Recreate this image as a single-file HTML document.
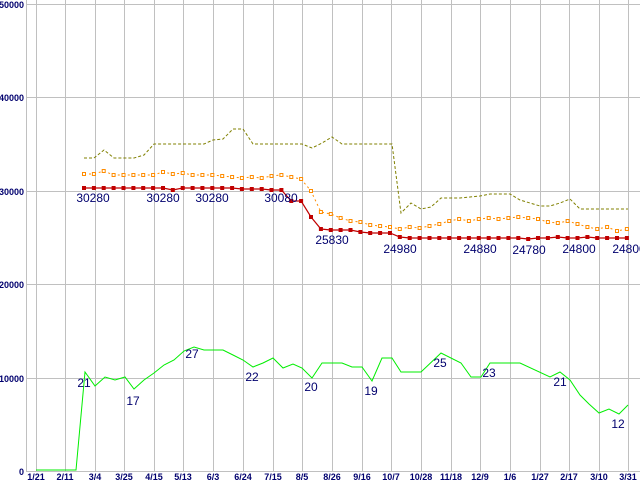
<!DOCTYPE html>
<html><head><meta charset="utf-8"><style>
html,body{margin:0;padding:0;background:#fff;}
svg{display:block;}
.t{font-family:"Liberation Sans",sans-serif;fill:#00006e;}
</style></head><body>
<svg width="640" height="480" xmlns="http://www.w3.org/2000/svg">
<defs>
<marker id="rs" markerUnits="userSpaceOnUse" markerWidth="6" markerHeight="6" refX="3" refY="3"><rect x="1" y="1" width="4" height="4" fill="#c00000"/></marker>
<marker id="os" markerUnits="userSpaceOnUse" markerWidth="6" markerHeight="6" refX="3" refY="3"><rect x="1.5" y="1.5" width="3" height="3" fill="#fff" stroke="#ff8c00" stroke-width="1"/></marker>
</defs>
<rect width="640" height="480" fill="#fff"/>
<g stroke="#c0c0c0" stroke-width="1">
<line x1="26" y1="4.5" x2="640" y2="4.5"/><line x1="26" y1="97.5" x2="640" y2="97.5"/>
<line x1="26" y1="191.5" x2="640" y2="191.5"/><line x1="26" y1="284.5" x2="640" y2="284.5"/>
<line x1="26" y1="378.5" x2="640" y2="378.5"/><line x1="26" y1="471.5" x2="640" y2="471.5"/>
<line x1="26.5" y1="0" x2="26.5" y2="472"/>
<line x1="36.5" y1="0" x2="36.5" y2="472"/><line x1="65.5" y1="0" x2="65.5" y2="472"/>
<line x1="95.5" y1="0" x2="95.5" y2="472"/><line x1="124.5" y1="0" x2="124.5" y2="472"/>
<line x1="154.5" y1="0" x2="154.5" y2="472"/><line x1="183.5" y1="0" x2="183.5" y2="472"/>
<line x1="213.5" y1="0" x2="213.5" y2="472"/><line x1="243.5" y1="0" x2="243.5" y2="472"/>
<line x1="273.5" y1="0" x2="273.5" y2="472"/><line x1="302.5" y1="0" x2="302.5" y2="472"/>
<line x1="332.5" y1="0" x2="332.5" y2="472"/><line x1="362.5" y1="0" x2="362.5" y2="472"/>
<line x1="391.5" y1="0" x2="391.5" y2="472"/><line x1="421.5" y1="0" x2="421.5" y2="472"/>
<line x1="451.5" y1="0" x2="451.5" y2="472"/><line x1="480.5" y1="0" x2="480.5" y2="472"/>
<line x1="510.5" y1="0" x2="510.5" y2="472"/><line x1="540.5" y1="0" x2="540.5" y2="472"/>
<line x1="569.5" y1="0" x2="569.5" y2="472"/><line x1="599.5" y1="0" x2="599.5" y2="472"/>
<line x1="628.5" y1="0" x2="628.5" y2="472"/>
</g>
<g class="t" font-size="9" font-weight="bold" text-anchor="end">
<text x="24" y="8">50000</text><text x="24" y="101">40000</text><text x="24" y="195">30000</text>
<text x="24" y="288">20000</text><text x="24" y="382">10000</text><text x="24" y="475">0</text>
</g>
<g class="t" font-size="9" font-weight="bold" text-anchor="middle">
<text x="36" y="480">1/21</text><text x="65" y="480">2/11</text><text x="95" y="480">3/4</text>
<text x="124" y="480">3/25</text><text x="154" y="480">4/15</text><text x="183" y="480">5/13</text>
<text x="213" y="480">6/3</text><text x="243" y="480">6/24</text><text x="273" y="480">7/15</text>
<text x="302" y="480">8/5</text><text x="332" y="480">8/26</text><text x="362" y="480">9/16</text>
<text x="391" y="480">10/7</text><text x="421" y="480">10/28</text><text x="451" y="480">11/18</text>
<text x="480" y="480">12/9</text><text x="510" y="480">1/6</text><text x="540" y="480">1/27</text>
<text x="569" y="480">2/17</text><text x="599" y="480">3/10</text><text x="628" y="480">3/31</text>
</g>
<polyline fill="none" stroke="#808000" stroke-width="1" stroke-dasharray="3,2" points="84,158 94,158 104,150 114,158 134,158 144,155 154,144 204,144 213,140 223,139 233,129 243,129 253,144 302,144 312,148 322,143 332,137 342,144 392,144 401,213 411,203 421,209 431,207 441,198 460,198 480,196 490,194 510,194 520,200 540,206 550,206 560,203 570,199 580,209 628,209"/>
<polyline fill="none" stroke="#ff8c00" stroke-width="1" stroke-dasharray="2,3" marker-start="url(#os)" marker-mid="url(#os)" marker-end="url(#os)" points="84,174 93.9,174 103.7,171 113.6,175 123.5,175 133.4,175 143.2,175 153.1,175 163,172 172.8,174 182.7,173 192.6,175 202.4,175 212.3,175 222.2,176 232.1,177 241.9,178 251.8,177 261.7,178 271.5,176 281.4,175 291.3,177 301.1,179 311,191 320.9,212 330.8,214 340.6,218 350.5,221 360.4,222 370.2,225 380.1,226 390,227 399.8,229 409.7,227 419.6,228 429.5,226 439.3,224 449.2,221 459.1,219 468.9,221 478.8,219 488.7,218 498.5,219 508.4,218 518.3,217 528.2,218 538,219 547.9,222 557.8,223 567.6,221 577.5,224 587.4,227 597.2,229 607.1,227 617,231 626.9,229"/>
<polyline fill="none" stroke="#c00000" stroke-width="1.2" marker-start="url(#rs)" marker-mid="url(#rs)" marker-end="url(#rs)" points="84,188 93.9,188 103.7,188 113.6,188 123.5,188 133.4,188 143.2,188 153.1,188 163,188 172.8,190 182.7,188 192.6,188 202.4,188 212.3,188 222.2,188 232.1,188 241.9,189 251.8,189 261.7,189 271.5,190 281.4,190 291.3,201 301.1,201 311,217 320.9,229 330.8,230 340.6,230 350.5,230 360.4,232 370.2,233 380.1,233 390,233 399.8,237 409.7,238 419.6,238 429.5,238 439.3,238 449.2,238 459.1,238 468.9,238 478.8,238 488.7,238 498.5,238 508.4,238 518.3,238 528.2,239 538,238 547.9,238 557.8,237 567.6,238 577.5,238 587.4,237 597.2,238 607.1,238 617,238 626.9,238"/>
<polyline fill="none" stroke="#00ee00" stroke-width="1" points="36,470 76,470 85,372 95,386 105,377 115,380 125,377 134,389 144,380 154,373 164,365 174,360 184,351 194,347 204,350 223,350 233,355 243,360 253,367 263,363 273,358 283,368 293,364 302,368 312,378 322,363 342,363 352,367 362,367 372,381 382,358 392,358 401,372 421,372 441,353 461,363 471,377 481,377 490,363 520,363 550,377 560,372 570,380 580,395 589,404 599,413 609,409 619,414 628,405"/>
<g class="t" font-size="12" text-anchor="middle">
<text x="93" y="202">30280</text><text x="163" y="202">30280</text><text x="212" y="202">30280</text>
<text x="281" y="202">30080</text><text x="332" y="244">25830</text><text x="400" y="253">24980</text>
<text x="480" y="253">24880</text><text x="529" y="254">24780</text><text x="579" y="253">24800</text>
<text x="629" y="253">24800</text>
<text x="84" y="387">21</text><text x="133" y="405">17</text><text x="192" y="358">27</text>
<text x="252" y="381">22</text><text x="311" y="391">20</text><text x="371" y="395">19</text>
<text x="440" y="367">25</text><text x="489" y="377">23</text><text x="560" y="386">21</text>
<text x="618" y="428">12</text>
</g>
</svg>
</body></html>
